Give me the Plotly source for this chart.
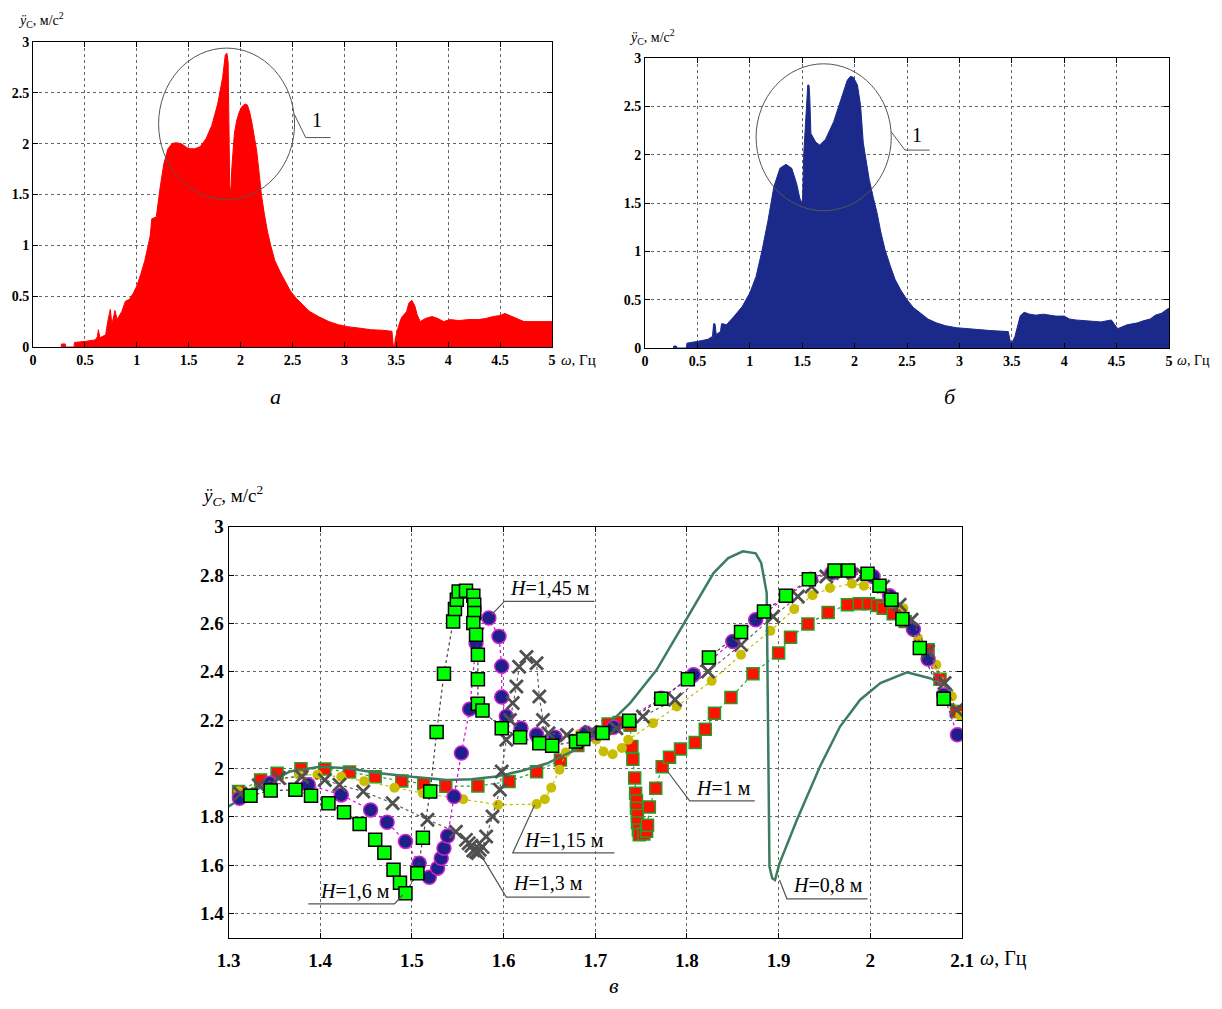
import plotly.graph_objects as go

# page is shown with the browser's default 8px body margin
OFF = 8
W, H = 1222 - OFF, 1009 - OFF

# ---------------- Panel a (red spectrum) ----------------
omega_a = [0.27, 0.275, 0.31, 0.315, 0.395, 0.40, 0.5, 0.6, 0.62, 0.63, 0.645, 0.70, 0.72, 0.745, 0.76,
           0.79, 0.81, 0.856, 0.89, 0.93, 0.967, 1.0, 1.04, 1.077, 1.11, 1.13, 1.144, 1.188, 1.225, 1.26,
           1.30, 1.34, 1.373, 1.43, 1.483, 1.52, 1.557, 1.61, 1.668, 1.723, 1.779, 1.827, 1.852, 1.868,
           1.88, 1.886, 1.89, 1.895, 1.905, 1.915, 1.926, 1.94, 1.963, 1.99, 2.018, 2.045, 2.066, 2.09,
           2.11, 2.13, 2.155, 2.18, 2.2, 2.23, 2.258, 2.29, 2.33, 2.38, 2.424, 2.48, 2.535, 2.6, 2.664,
           2.75, 2.85, 2.94, 3.03, 3.15, 3.255, 3.36, 3.458, 3.47, 3.483, 3.49, 3.5, 3.52, 3.55, 3.6,
           3.62, 3.65, 3.68, 3.7, 3.73, 3.78, 3.845, 3.9, 3.956, 4.02, 4.1, 4.2, 4.29, 4.36, 4.435, 4.5,
           4.546, 4.62, 4.68, 4.73, 4.85, 5.0]
acc_a = [0.0, 0.03, 0.03, 0.0, 0.0, 0.045, 0.055, 0.07, 0.10, 0.17, 0.09, 0.12, 0.25, 0.37, 0.22,
         0.36, 0.27, 0.35, 0.45, 0.47, 0.53, 0.6, 0.72, 0.85, 1.0, 1.1, 1.26, 1.28, 1.57, 1.8,
         1.95, 2.0, 2.01, 2.0, 1.96, 1.95, 1.95, 1.97, 2.05, 2.18, 2.39, 2.65, 2.87, 2.89,
         2.8, 2.5, 2.0, 1.6, 1.5, 1.75, 1.93, 2.1, 2.23, 2.32, 2.37, 2.39, 2.38, 2.3,
         2.2, 2.07, 1.93, 1.7, 1.5, 1.3, 1.14, 1.0, 0.85, 0.74, 0.65, 0.55, 0.48, 0.41, 0.35,
         0.3, 0.25, 0.22, 0.2, 0.185, 0.17, 0.165, 0.155, 0.02, 0.0, 0.08, 0.12, 0.2, 0.29, 0.35,
         0.43, 0.46, 0.4, 0.32, 0.25, 0.28, 0.3, 0.28, 0.25, 0.27, 0.26, 0.27, 0.27, 0.28, 0.3, 0.31,
         0.33, 0.3, 0.27, 0.25, 0.25, 0.25]

# ---------------- Panel b (blue spectrum) ----------------
omega_b = [0.27, 0.275, 0.3, 0.305, 0.395, 0.4, 0.51, 0.6, 0.644, 0.655, 0.668, 0.68, 0.72, 0.73, 0.745,
           0.777, 0.852, 0.928, 1.0, 1.06, 1.117, 1.174, 1.23, 1.288, 1.345, 1.4, 1.447, 1.477, 1.495,
           1.504, 1.515, 1.534, 1.553, 1.565, 1.572, 1.583, 1.629, 1.667, 1.723, 1.8, 1.875, 1.93, 1.96,
           1.989, 2.027, 2.057, 2.083, 2.11, 2.14, 2.18, 2.216, 2.25, 2.29, 2.34, 2.386, 2.44, 2.5, 2.56,
           2.63, 2.7, 2.78, 2.87, 2.97, 3.06, 3.16, 3.3, 3.466, 3.485, 3.5, 3.53, 3.58, 3.617, 3.67,
           3.73, 3.8, 3.845, 3.92, 4.0, 4.05, 4.11, 4.2, 4.26, 4.35, 4.45, 4.51, 4.6, 4.7, 4.75, 4.82,
           4.87, 4.93, 4.98, 5.0]
acc_b = [0.0, 0.02, 0.02, 0.0, 0.0, 0.05, 0.07, 0.09, 0.12, 0.25, 0.25, 0.14, 0.17, 0.25, 0.25,
         0.24, 0.33, 0.43, 0.57, 0.74, 1.01, 1.32, 1.67, 1.86, 1.9, 1.86, 1.7, 1.55, 1.5,
         1.55, 2.01, 2.36, 2.72, 2.72, 2.6, 2.22, 2.13, 2.1, 2.16, 2.34, 2.58, 2.77, 2.81,
         2.8, 2.72, 2.51, 2.12, 1.93, 1.74, 1.55, 1.39, 1.2, 1.02, 0.85, 0.71, 0.6, 0.5, 0.42,
         0.36, 0.3, 0.26, 0.23, 0.21, 0.2, 0.19, 0.18, 0.17, 0.07, 0.05, 0.12, 0.33, 0.37, 0.35,
         0.34, 0.35, 0.34, 0.33, 0.33, 0.3, 0.29, 0.28, 0.28, 0.27, 0.29, 0.2, 0.24, 0.26, 0.28, 0.3,
         0.34, 0.36, 0.4, 0.41]

# ---------------- Panel v (frequency responses) ----------------
w_h08 = [1.30, 1.33, 1.367, 1.40, 1.43, 1.465, 1.50, 1.538, 1.565, 1.592, 1.62, 1.647, 1.675, 1.701,
         1.719, 1.738, 1.767, 1.803, 1.829, 1.845, 1.861, 1.875, 1.881, 1.887, 1.890, 1.893, 1.896,
         1.901, 1.92, 1.945, 1.967, 1.989, 2.011, 2.04, 2.065, 2.08, 2.09]
a_h08 = [1.842, 1.911, 1.987, 2.007, 2.0, 1.98, 1.965, 1.952, 1.955, 1.966, 1.99, 2.02, 2.07, 2.13,
         2.2, 2.27, 2.408, 2.643, 2.808, 2.87, 2.898, 2.89, 2.85, 2.725, 1.593, 1.545, 1.538,
         1.607, 1.787, 2.007, 2.173, 2.284, 2.353, 2.397, 2.373, 2.346, 2.32]

w_h10 = [1.311, 1.335, 1.353, 1.379, 1.405, 1.432, 1.46, 1.489, 1.513, 1.537, 1.572, 1.606, 1.636, 1.662,
         1.681, 1.714, 1.726, 1.738, 1.74, 1.741, 1.743, 1.744, 1.745, 1.745, 1.746, 1.746, 1.747, 1.748,
         1.753, 1.756, 1.757, 1.759, 1.766, 1.773, 1.781, 1.793, 1.809, 1.82, 1.83, 1.848, 1.872, 1.90,
         1.913, 1.932, 1.954, 1.975, 1.988, 1.998, 2.008, 2.014, 2.025, 2.038, 2.063, 2.076, 2.094]
a_h10 = [1.904, 1.952, 1.98, 1.998, 1.997, 1.985, 1.965, 1.948, 1.936, 1.926, 1.927, 1.946, 1.986, 2.035,
         2.095, 2.184, 2.19, 2.178, 2.09, 2.038, 1.96, 1.897, 1.865, 1.835, 1.805, 1.775, 1.745, 1.725,
         1.728, 1.74, 1.765, 1.84, 1.918, 2.007, 2.046, 2.08, 2.107, 2.162, 2.228, 2.293, 2.391, 2.477,
         2.542, 2.597, 2.645, 2.677, 2.681, 2.681, 2.674, 2.663, 2.64, 2.608, 2.491, 2.369, 2.235]

w_h115 = [1.311, 1.345, 1.377, 1.397, 1.423, 1.448, 1.481, 1.512, 1.556, 1.594, 1.636, 1.645, 1.652,
          1.661, 1.668, 1.676, 1.683, 1.694, 1.701, 1.709, 1.719, 1.729, 1.736, 1.763, 1.789, 1.827,
          1.859, 1.891, 1.917, 1.937, 1.956, 1.98, 1.993, 2.02, 2.036, 2.052, 2.072, 2.089, 2.098]
a_h115 = [1.905, 1.94, 1.973, 1.973, 1.965, 1.947, 1.92, 1.897, 1.872, 1.849, 1.852, 1.872, 1.92,
          1.994, 2.066, 2.118, 2.143, 2.146, 2.118, 2.07, 2.058, 2.084, 2.118, 2.187, 2.256, 2.362,
          2.47, 2.569, 2.659, 2.716, 2.746, 2.764, 2.756, 2.709, 2.663, 2.539, 2.429, 2.297, 2.217]

w_h13 = [1.313, 1.333, 1.355, 1.38, 1.405, 1.421, 1.447, 1.479, 1.517, 1.548, 1.559, 1.562, 1.565, 1.567,
         1.57, 1.572, 1.574, 1.577, 1.581, 1.588, 1.596, 1.598, 1.603, 1.607, 1.61, 1.614, 1.617, 1.625,
         1.636, 1.639, 1.643, 1.649, 1.669, 1.695, 1.723, 1.752, 1.787, 1.823, 1.859, 1.894, 1.921,
         1.936, 1.952, 1.97, 1.992, 2.014, 2.032, 2.045, 2.063, 2.081, 2.094]
a_h13 = [1.895, 1.93, 1.96, 1.965, 1.952, 1.932, 1.904, 1.856, 1.787, 1.738, 1.704, 1.69, 1.68, 1.66,
         1.655, 1.65, 1.663, 1.675, 1.718, 1.801, 1.911, 1.987, 2.118, 2.2, 2.27, 2.339, 2.42, 2.461,
         2.435, 2.297, 2.2, 2.145, 2.138, 2.15, 2.166, 2.215, 2.284, 2.401, 2.511, 2.628, 2.711,
         2.752, 2.794, 2.808, 2.801, 2.752, 2.677, 2.615, 2.484, 2.353, 2.242]

w_h145 = [1.312, 1.345, 1.387, 1.423, 1.455, 1.473, 1.493, 1.508, 1.519, 1.528, 1.532, 1.535, 1.539,
          1.546, 1.554, 1.563, 1.57, 1.584, 1.595, 1.598, 1.598, 1.603, 1.619, 1.636, 1.656, 1.69,
          1.703, 1.72, 1.772, 1.807, 1.85, 1.875, 1.935, 1.958, 1.978, 2.003, 2.021, 2.047, 2.063,
          2.08, 2.095]
a_h145 = [1.876, 1.938, 1.932, 1.89, 1.828, 1.777, 1.697, 1.607, 1.549, 1.587, 1.628, 1.669, 1.72,
          1.883, 2.063, 2.245, 2.518, 2.622, 2.546, 2.422, 2.295, 2.215, 2.166, 2.139, 2.129, 2.146,
          2.146, 2.17, 2.29, 2.387, 2.525, 2.615, 2.783, 2.808, 2.815, 2.794, 2.714, 2.576, 2.452,
          2.304, 2.139]

w_h16 = [1.324, 1.346, 1.373, 1.39, 1.409, 1.426, 1.443, 1.46, 1.47, 1.48, 1.487, 1.493, 1.506, 1.512,
         1.52, 1.527, 1.535, 1.545, 1.547, 1.549, 1.551, 1.559, 1.567, 1.568, 1.568, 1.567, 1.57, 1.572,
         1.572, 1.572, 1.577, 1.598, 1.618, 1.639, 1.653, 1.679, 1.687, 1.708, 1.737, 1.772, 1.801,
         1.824, 1.859, 1.884, 1.908, 1.933, 1.961, 1.976, 1.997, 2.01, 2.023, 2.035, 2.054, 2.08]
a_h16 = [1.887, 1.908, 1.911, 1.887, 1.856, 1.818, 1.77, 1.704, 1.651, 1.58, 1.527, 1.483, 1.566, 1.713,
         1.904, 2.15, 2.391, 2.608, 2.659, 2.698, 2.732, 2.735, 2.714, 2.677, 2.643, 2.601, 2.553, 2.47,
         2.369, 2.267, 2.239, 2.166, 2.129, 2.104, 2.094, 2.111, 2.121, 2.146, 2.197, 2.288, 2.369,
         2.459, 2.564, 2.649, 2.714, 2.783, 2.819, 2.819, 2.805, 2.756, 2.698, 2.618, 2.498, 2.288]

# tick values / labels
top_x_ticks = [0, 0.5, 1, 1.5, 2, 2.5, 3, 3.5, 4, 4.5, 5]
top_x_text = ["0", "0.5", "1", "1.5", "2", "2.5", "3", "3.5", "4", "4.5", "5"]
top_y_ticks = [0, 0.5, 1, 1.5, 2, 2.5, 3]
top_y_text = ["0", "0.5", "1", "1.5", "2", "2.5", "3"]
bot_x_ticks = [1.3, 1.4, 1.5, 1.6, 1.7, 1.8, 1.9, 2.0, 2.1]
bot_x_text = ["1.3", "1.4", "1.5", "1.6", "1.7", "1.8", "1.9", "2", "2.1"]
bot_y_ticks = [1.4, 1.6, 1.8, 2.0, 2.2, 2.4, 2.6, 2.8, 3.0]
bot_y_text = ["1.4", "1.6", "1.8", "2", "2.2", "2.4", "2.6", "2.8", "3"]

SERIF = "Liberation Serif, Times New Roman, serif"


def px(x):
    return (x - OFF) / W


def py(y):
    return 1 - (y - OFF) / H


fig = go.Figure()

fig.add_trace(go.Scatter(x=omega_a, y=acc_a, mode="lines", fill="tozeroy",
                         line=dict(color="#ff0000", width=1), fillcolor="#ff0000",
                         xaxis="x", yaxis="y", showlegend=False))
fig.add_trace(go.Scatter(x=omega_b, y=acc_b, mode="lines", fill="tozeroy",
                         line=dict(color="#1b2a8a", width=1), fillcolor="#1b2a8a",
                         xaxis="x2", yaxis="y2", showlegend=False))

# bottom panel series
fig.add_trace(go.Scatter(x=w_h10, y=a_h10, mode="lines+markers", xaxis="x3", yaxis="y3",
                         line=dict(color="#22a022", width=1.2, dash="dot"),
                         marker=dict(symbol="square", size=12, color="#ff1100",
                                     line=dict(color="#2a9a2a", width=1.5)), showlegend=False))
fig.add_trace(go.Scatter(x=w_h115, y=a_h115, mode="lines+markers", xaxis="x3", yaxis="y3",
                         line=dict(color="#c8bd00", width=1.2, dash="dot"),
                         marker=dict(symbol="circle", size=10, color="#c8bd00",
                                     line=dict(width=0)), showlegend=False))
fig.add_trace(go.Scatter(x=w_h08, y=a_h08, mode="lines", xaxis="x3", yaxis="y3",
                         line=dict(color="#3d7d5f", width=2.5), showlegend=False))
fig.add_trace(go.Scatter(x=w_h145, y=a_h145, mode="lines+markers", xaxis="x3", yaxis="y3",
                         line=dict(color="#dd00dd", width=1.2, dash="dot"),
                         marker=dict(symbol="circle", size=14, color="#1f1f8c",
                                     line=dict(color="#cc22cc", width=1.5)), showlegend=False))
fig.add_trace(go.Scatter(x=w_h13, y=a_h13, mode="lines+markers", xaxis="x3", yaxis="y3",
                         line=dict(color="#606060", width=1.2, dash="dot"),
                         marker=dict(symbol="x-thin", size=13, color="#505050",
                                     line=dict(color="#505050", width=2.8)), showlegend=False))
fig.add_trace(go.Scatter(x=w_h16, y=a_h16, mode="lines+markers", xaxis="x3", yaxis="y3",
                         line=dict(color="#404040", width=1.2, dash="dot"),
                         marker=dict(symbol="square", size=13, color="#00ff00",
                                     line=dict(color="#000000", width=1.5)), showlegend=False))

axis_common = dict(showline=True, linecolor="black", linewidth=1, mirror="allticks",
                   ticks="inside", ticklen=5, tickcolor="black", showgrid=True,
                   gridcolor="#666666", griddash="dot", gridwidth=1, zeroline=False)

small_font = dict(family=SERIF, size=14, color="black", weight=700)
big_font = dict(family=SERIF, size=19, color="black", weight=700)

fig.update_layout(
    width=W, height=H, margin=dict(l=0, r=0, t=0, b=0, autoexpand=False),
    paper_bgcolor="white", plot_bgcolor="white", showlegend=False,
    xaxis=dict(domain=[px(33), px(552)], range=[0, 5], anchor="y",
               tickvals=top_x_ticks, ticktext=top_x_text, tickfont=small_font, **axis_common),
    yaxis=dict(domain=[py(347), py(42)], range=[0, 3], anchor="x",
               tickvals=top_y_ticks, ticktext=top_y_text, tickfont=small_font, **axis_common),
    xaxis2=dict(domain=[px(645), px(1169)], range=[0, 5], anchor="y2",
                tickvals=top_x_ticks, ticktext=top_x_text, tickfont=small_font, **axis_common),
    yaxis2=dict(domain=[py(348), py(58)], range=[0, 3], anchor="x2",
                tickvals=top_y_ticks, ticktext=top_y_text, tickfont=small_font, **axis_common),
    xaxis3=dict(domain=[px(228.5), px(962)], range=[1.3, 2.1], anchor="y3",
                tickvals=bot_x_ticks, ticktext=bot_x_text, tickfont=big_font,
                ticklabelstandoff=6, **axis_common),
    yaxis3=dict(domain=[py(937.5), py(526.7)], range=[1.3, 3.0], anchor="x3",
                tickvals=bot_y_ticks, ticktext=bot_y_text, tickfont=big_font, **axis_common),
)

shapes = []
# circles "1"
shapes.append(dict(type="circle", xref="x", yref="y", x0=1.21, x1=2.52, y0=1.45, y1=2.94,
                   line=dict(color="#555555", width=1)))
shapes.append(dict(type="path", xref="x", yref="y",
                   path="M 2.517,2.29 L 2.627,2.06 L 2.867,2.06", line=dict(color="#555555", width=1)))
shapes.append(dict(type="circle", xref="x2", yref="y2", x0=1.06, x1=2.35, y0=1.42, y1=2.94,
                   line=dict(color="#555555", width=1)))
shapes.append(dict(type="path", xref="x2", yref="y2",
                   path="M 2.35,2.236 L 2.481,2.047 L 2.716,2.047", line=dict(color="#555555", width=1)))

# label leaders in panel v
leaders = [
    "M 1.587,2.636 L 1.601,2.691 L 1.699,2.691",   # H=1,45
    "M 1.634,1.849 L 1.610,1.650 L 1.721,1.650",   # H=1,15
    "M 1.574,1.649 L 1.603,1.467 L 1.694,1.467",   # H=1,3
    "M 1.490,1.476 L 1.481,1.439 L 1.387,1.439",   # H=1,6
    "M 1.779,1.987 L 1.803,1.865 L 1.874,1.865",   # H=1
    "M 1.901,1.538 L 1.909,1.460 L 1.997,1.460",   # H=0,8
]
for p in leaders:
    shapes.append(dict(type="path", xref="x3", yref="y3", path=p,
                       line=dict(color="#555555", width=1.2)))
fig.update_layout(shapes=shapes)

ann = []
label_font = dict(family=SERIF, size=20, color="black")
labels = [
    (1.651, 2.747, "<i>H</i>=1,45 м"),
    (1.666, 1.704, "<i>H</i>=1,15 м"),
    (1.649, 1.526, "<i>H</i>=1,3 м"),
    (1.4375, 1.494, "<i>H</i>=1,6 м"),
    (1.840, 1.919, "<i>H</i>=1 м"),
    (1.954, 1.518, "<i>H</i>=0,8 м"),
]
for x, y, t in labels:
    ann.append(dict(x=x, y=y, xref="x3", yref="y3", text=t, showarrow=False,
                    font=label_font, xanchor="center", yanchor="middle"))

ann.append(dict(x=2.738, y=2.23, xref="x", yref="y", text="1", showarrow=False,
                font=dict(family=SERIF, size=20, color="black")))
ann.append(dict(x=2.595, y=2.2, xref="x2", yref="y2", text="1", showarrow=False,
                font=dict(family=SERIF, size=20, color="black")))

ytitle = "<i>ÿ</i><sub>C</sub>, м/с<sup>2</sup>"
ann.append(dict(x=px(41), y=py(20), xref="paper", yref="paper", text=ytitle, showarrow=False,
                font=dict(family=SERIF, size=14, color="black"), xanchor="center", yanchor="middle"))
ann.append(dict(x=px(652), y=py(37), xref="paper", yref="paper", text=ytitle, showarrow=False,
                font=dict(family=SERIF, size=14, color="black"), xanchor="center", yanchor="middle"))
ann.append(dict(x=px(232), y=py(495), xref="paper", yref="paper",
                text="<i>ÿ</i><sub><i>C</i></sub>, м/с<sup>2</sup>", showarrow=False,
                font=dict(family=SERIF, size=19, color="black"), xanchor="center", yanchor="middle"))

xtitle = "<i>ω</i>, Гц"
ann.append(dict(x=px(559), y=py(360), xref="paper", yref="paper", text=xtitle, showarrow=False,
                font=dict(family=SERIF, size=15, color="black"), xanchor="left", yanchor="middle"))
ann.append(dict(x=px(1175), y=py(361), xref="paper", yref="paper", text=xtitle, showarrow=False,
                font=dict(family=SERIF, size=14, color="black"), xanchor="left", yanchor="middle"))
ann.append(dict(x=px(978), y=py(958), xref="paper", yref="paper", text=xtitle, showarrow=False,
                font=dict(family=SERIF, size=20, color="black"), xanchor="left", yanchor="middle"))

panel_font = dict(family=SERIF, size=22, color="black", style="italic")
ann.append(dict(x=px(268), y=py(396), xref="paper", yref="paper", text="а", showarrow=False,
                font=panel_font))
ann.append(dict(x=px(958), y=py(396), xref="paper", yref="paper", text="б", showarrow=False,
                font=panel_font))
ann.append(dict(x=px(614), y=py(1000), xref="paper", yref="paper", text="в", showarrow=False,
                font=panel_font))

fig.update_layout(annotations=ann)

fig.write_html("out.html")
